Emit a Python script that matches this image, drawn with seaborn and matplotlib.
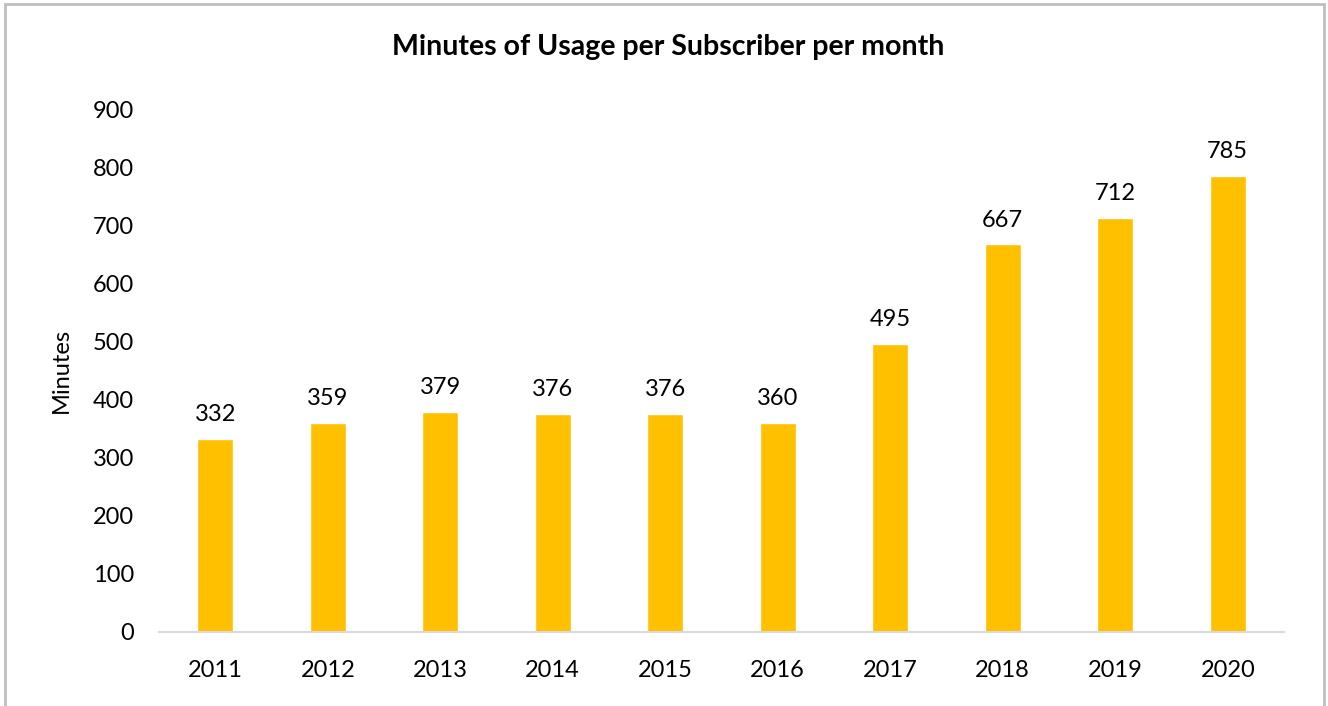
import matplotlib
matplotlib.use("Agg")
import matplotlib.pyplot as plt
import pandas as pd
import seaborn as sns
from matplotlib.patches import Rectangle

years = ["2011", "2012", "2013", "2014", "2015", "2016", "2017", "2018", "2019", "2020"]
minutes = [332, 359, 379, 376, 376, 360, 495, 667, 712, 785]
title = "Minutes of Usage per Subscriber per month"
y_label = "Minutes"
y_ticks = [0, 100, 200, 300, 400, 500, 600, 700, 800, 900]

sns.set_theme(style="white")
plt.rcParams["font.family"] = ["Lato", "DejaVu Sans"]

data = pd.DataFrame({"year": years, "minutes": minutes})

fig = plt.figure(figsize=(13.28, 7.06), dpi=100)
ax = fig.add_axes([159 / 1328, 1 - 632 / 706, 1125 / 1328, 523 / 706])

sns.barplot(data=data, x="year", y="minutes", color="#FFC000", width=0.32,
            saturation=1, ax=ax)
for c in ax.containers:
    ax.bar_label(c, padding=10, fontsize=17, color="#000000")

ax.set_ylim(0, 900)
ax.set_yticks(y_ticks)
ax.set_xlim(-0.5, len(years) - 0.5)
ax.tick_params(axis="y", length=0, pad=18, labelsize=17, labelcolor="#000000")
ax.tick_params(axis="x", length=0, pad=20, labelsize=17, labelcolor="#000000")
ax.set_xlabel("")
ax.set_ylabel(y_label, fontsize=17, labelpad=15, color="#000000")
for side in ["top", "right", "left"]:
    ax.spines[side].set_visible(False)
ax.spines["bottom"].set_color("#D9D9D9")
ax.spines["bottom"].set_linewidth(1.5)

fig.text(0.503, 1 - 47 / 706, title, ha="center", va="center",
         fontsize=20.5, fontweight="bold", color="#000000")

fig.patches.append(Rectangle((5 / 1328, -0.01), 1319 / 1328, 1 - 4 / 706 + 0.01,
                             transform=fig.transFigure, fill=False,
                             edgecolor="#BFBFBF", linewidth=2))

fig.savefig("out.png", dpi=100, facecolor="white")
